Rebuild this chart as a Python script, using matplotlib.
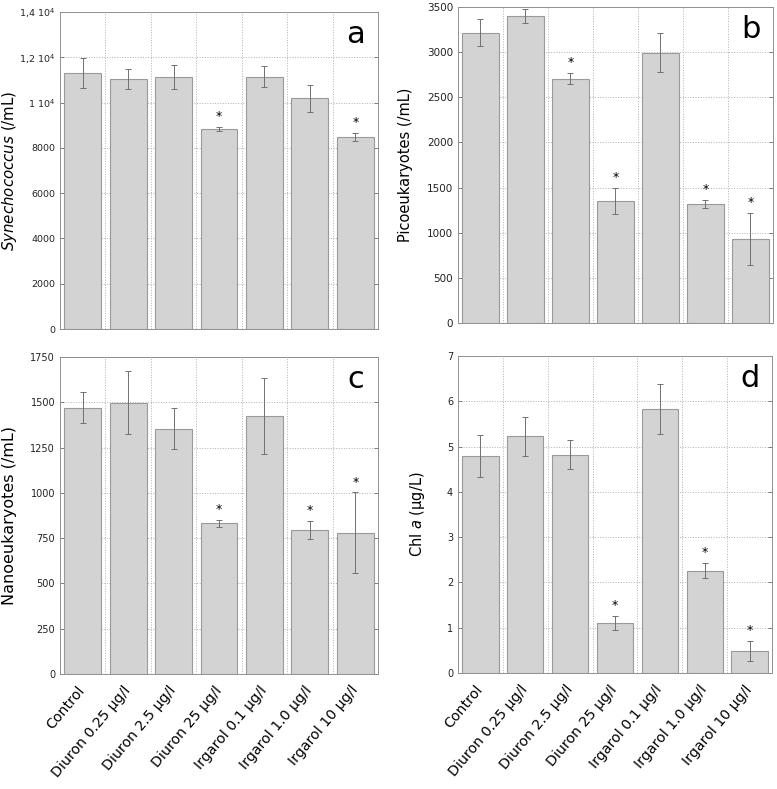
import matplotlib
matplotlib.use("Agg")
import matplotlib.pyplot as plt
import numpy as np

categories = ["Control", "Diuron 0.25 µg/l", "Diuron 2.5 µg/l", "Diuron 25 µg/l",
              "Irgarol 0.1 µg/l", "Irgarol 1.0 µg/l", "Irgarol 10 µg/l"]

syn_vals = [11300, 11040, 11130, 8830, 11140, 10180, 8490]
syn_err = [670, 440, 550, 80, 460, 590, 170]
syn_sig = [False, False, False, True, False, False, True]

pico_vals = [3217, 3401, 2708, 1348, 2996, 1315, 932]
pico_err = [150, 80, 60, 145, 215, 45, 290]
pico_sig = [False, False, True, True, False, True, True]

nano_vals = [1471, 1498, 1355, 832, 1425, 793, 780]
nano_err = [85, 175, 115, 20, 210, 50, 222]
nano_sig = [False, False, False, True, False, True, True]

chl_vals = [4.79, 5.23, 4.82, 1.10, 5.83, 2.26, 0.485]
chl_err = [0.47, 0.43, 0.32, 0.16, 0.56, 0.17, 0.22]
chl_sig = [False, False, False, True, False, True, True]

syn_ticks = [0, 2000, 4000, 6000, 8000, 10000, 12000, 14000]
syn_ticklabels = ["0", "2000", "4000", "6000", "8000", r"1 10$^4$", r"1,2 10$^4$", r"1,4 10$^4$"]
pico_ticks = [0, 500, 1000, 1500, 2000, 2500, 3000, 3500]
nano_ticks = [0, 250, 500, 750, 1000, 1250, 1500, 1750]
chl_ticks = [0, 1, 2, 3, 4, 5, 6, 7]

fig = plt.figure(figsize=(7.77, 7.89), dpi=100)

panels = [
    dict(pos=[0.0772, 0.583, 0.4093, 0.4018], vals=syn_vals, err=syn_err, sig=syn_sig,
         ticks=syn_ticks, labels=syn_ticklabels, ylabel=r"$\mathit{Synechococcus}$ (/mL)",
         letter="a", xlabels=False, ylfs=10.8, ylx=-0.128, tfs=6.8),
    dict(pos=[0.5894, 0.5906, 0.4054, 0.4005], vals=pico_vals, err=pico_err, sig=pico_sig,
         ticks=pico_ticks, labels=None, ylabel="Picoeukaryotes (/mL)", letter="b", xlabels=False,
         ylfs=10.5, ylx=-0.143, tfs=7.5),
    dict(pos=[0.0772, 0.1458, 0.4093, 0.4017], vals=nano_vals, err=nano_err, sig=nano_sig,
         ticks=nano_ticks, labels=None, ylabel="Nanoeukaryotes (/mL)", letter="c", xlabels=True,
         ylfs=11.5, ylx=-0.135, tfs=7),
    dict(pos=[0.5894, 0.147, 0.4041, 0.4018], vals=chl_vals, err=chl_err, sig=chl_sig,
         ticks=chl_ticks, labels=None, ylabel=r"Chl $\mathit{a}$ (µg/L)", letter="d", xlabels=True,
         ylfs=10.5, ylx=-0.099, tfs=7),
]

x = np.arange(len(categories))
for p in panels:
    ax = fig.add_axes(p["pos"])
    ax.bar(x, p["vals"], width=0.81, color="#d3d3d3", edgecolor="#9a9a9a", linewidth=0.8, zorder=2)
    ax.errorbar(x, p["vals"], yerr=p["err"], fmt="none", ecolor="#707070", elinewidth=0.7,
                capsize=2, capthick=0.7, zorder=3)
    ymax = p["ticks"][-1]
    ax.set_xlim(-0.5, len(categories) - 0.5)
    ax.set_ylim(0, ymax)
    ax.set_yticks(p["ticks"])
    if p["labels"] is not None:
        ax.set_yticklabels(p["labels"])
    ax.tick_params(axis="y", labelsize=p["tfs"], direction="in", length=3, width=0.5, colors="#555555",
                   right=True, labelcolor="#222222")
    ax.set_xticks(x)
    if p["xlabels"]:
        ax.set_xticklabels(categories, rotation=50, ha="right", va="center",
                           rotation_mode="anchor", fontsize=10.2)
    else:
        ax.set_xticklabels([])
    ax.tick_params(axis="x", length=0, pad=10)
    ax.set_xticks(np.arange(len(categories) - 1) + 0.5, minor=True)
    ax.grid(True, axis="y", which="major", color="#b0b0b0", linestyle=":", linewidth=0.7, zorder=0)
    ax.grid(True, axis="x", which="minor", color="#b0b0b0", linestyle=":", linewidth=0.7, zorder=0)
    ax.tick_params(axis="x", which="minor", length=0)
    for s in ax.spines.values():
        s.set_color("#909090")
        s.set_linewidth(0.7)
    ax.set_ylabel(p["ylabel"], fontsize=p["ylfs"])
    ax.yaxis.set_label_coords(p["ylx"], 0.5)
    for xi, v, e, sg in zip(x, p["vals"], p["err"], p["sig"]):
        if sg:
            ax.text(xi, v + e + ymax * 0.012, "*", ha="center", va="bottom", fontsize=9)
    ax.text(0.93, 0.975, p["letter"], transform=ax.transAxes, ha="center", va="top", fontsize=22)

fig.savefig("out.png", dpi=100)
